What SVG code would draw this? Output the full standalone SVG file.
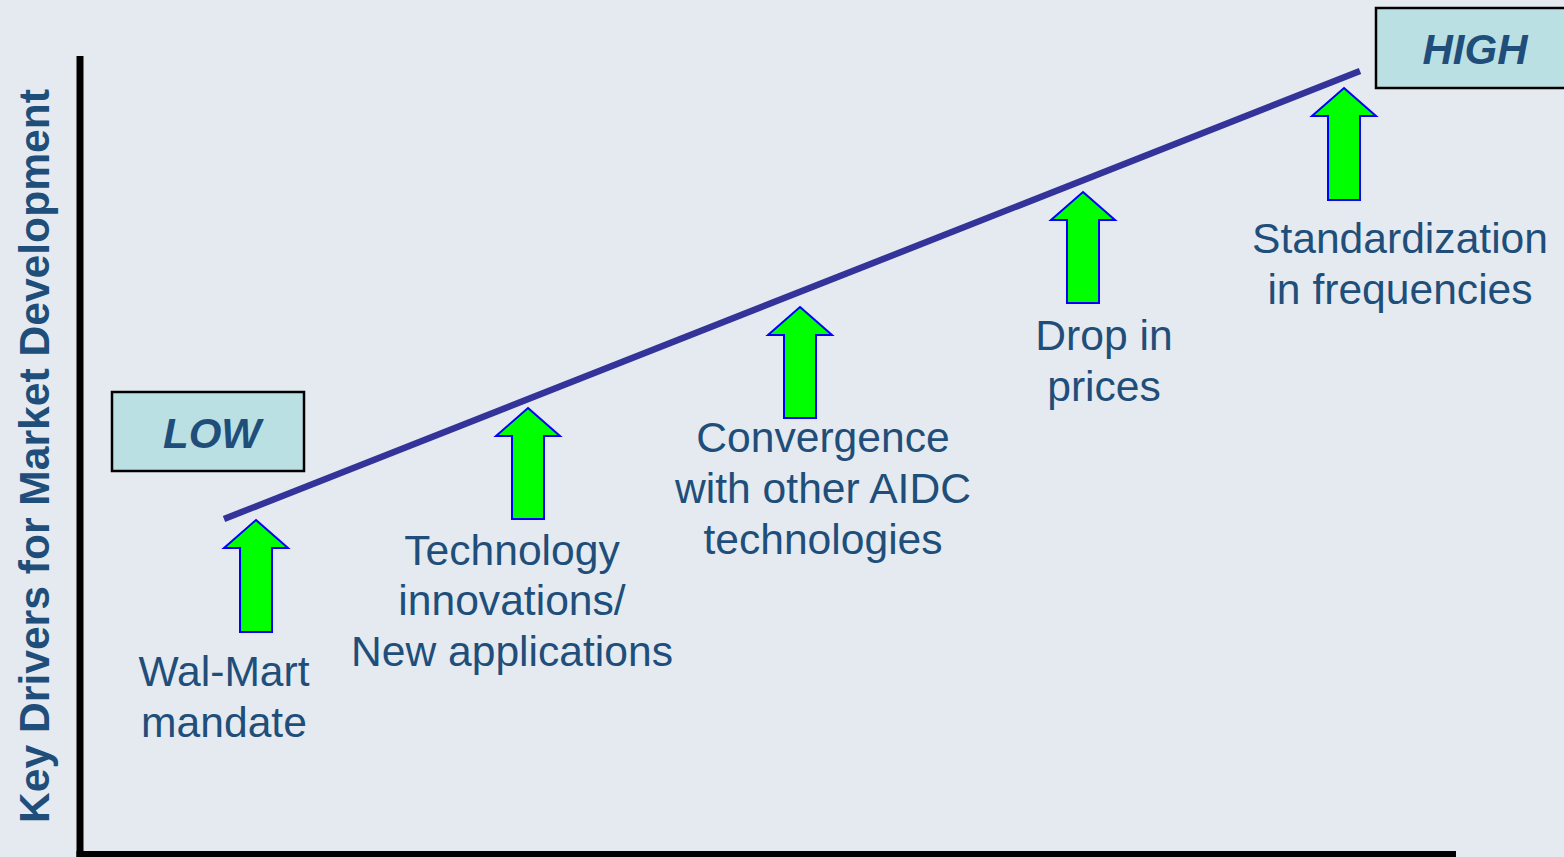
<svg xmlns="http://www.w3.org/2000/svg" width="1564" height="857" viewBox="0 0 1564 857">
  <defs>
    <style>
      .lbl { font-family: "Liberation Sans", Arial, sans-serif; font-size: 42.6px; fill: #1F4E7A; text-anchor: middle; }
      .tag { font-family: "Liberation Sans", Arial, sans-serif; font-size: 42px; font-weight: bold; font-style: italic; fill: #1F4E7A; text-anchor: middle; }
      .axisT { font-family: "Liberation Sans", Arial, sans-serif; font-size: 42.6px; font-weight: bold; fill: #1F4E7A; text-anchor: middle; }
      .box { fill: #BBE0E3; stroke: #000000; stroke-width: 2.5; }
      .arrow { fill: #00FF00; stroke: #0000FF; stroke-width: 2; stroke-linejoin: miter; }
      .axis { stroke: #000000; stroke-width: 7; fill: none; }
      .trend { stroke: #333399; stroke-width: 6.5; fill: none; }
    </style>
  </defs>
  <rect x="0" y="0" width="1564" height="857" fill="#E4EAEF"/>

  <g id="axes">
    <line class="axis" x1="80" y1="56" x2="80" y2="857"/>
    <line class="axis" x1="76.5" y1="854.5" x2="1456" y2="854.5"/>
    <text class="axisT" transform="translate(49,456) rotate(-90)">Key Drivers for Market Development</text>
  </g>

  <g id="connectors">
    <line class="trend" x1="224" y1="519" x2="1360" y2="71"/>
  </g>

  <g id="low">
    <rect class="box" x="112" y="392" width="192" height="79"/>
    <text class="tag" x="212" y="448">LOW</text>
  </g>

  <g id="high">
    <rect class="box" x="1376" y="8" width="192" height="80"/>
    <text class="tag" x="1475" y="64">HIGH</text>
  </g>

  <g id="walmart">
    <polygon class="arrow" points="256,520 288,548 272,548 272,632 240,632 240,548 224,548"/>
    <text class="lbl" x="224" y="686">Wal-Mart</text>
    <text class="lbl" x="224" y="737">mandate</text>
  </g>

  <g id="technology">
    <polygon class="arrow" points="528,408 560,436 544,436 544,519 512,519 512,436 496,436"/>
    <text class="lbl" x="512" y="565">Technology</text>
    <text class="lbl" x="512" y="615">innovations/</text>
    <text class="lbl" x="512" y="666">New applications</text>
  </g>

  <g id="convergence">
    <polygon class="arrow" points="800,307 832,335 816,335 816,418 784,418 784,335 768,335"/>
    <text class="lbl" x="823" y="452">Convergence</text>
    <text class="lbl" x="823" y="503">with other AIDC</text>
    <text class="lbl" x="823" y="554">technologies</text>
  </g>

  <g id="prices">
    <polygon class="arrow" points="1083,192 1115,220 1099,220 1099,303 1067,303 1067,220 1051,220"/>
    <text class="lbl" x="1104" y="350">Drop in</text>
    <text class="lbl" x="1104" y="401">prices</text>
  </g>

  <g id="standardization">
    <polygon class="arrow" points="1344,88 1376,116 1360,116 1360,200 1328,200 1328,116 1312,116"/>
    <text class="lbl" x="1400" y="253">Standardization</text>
    <text class="lbl" x="1400" y="304">in frequencies</text>
  </g>
</svg>
